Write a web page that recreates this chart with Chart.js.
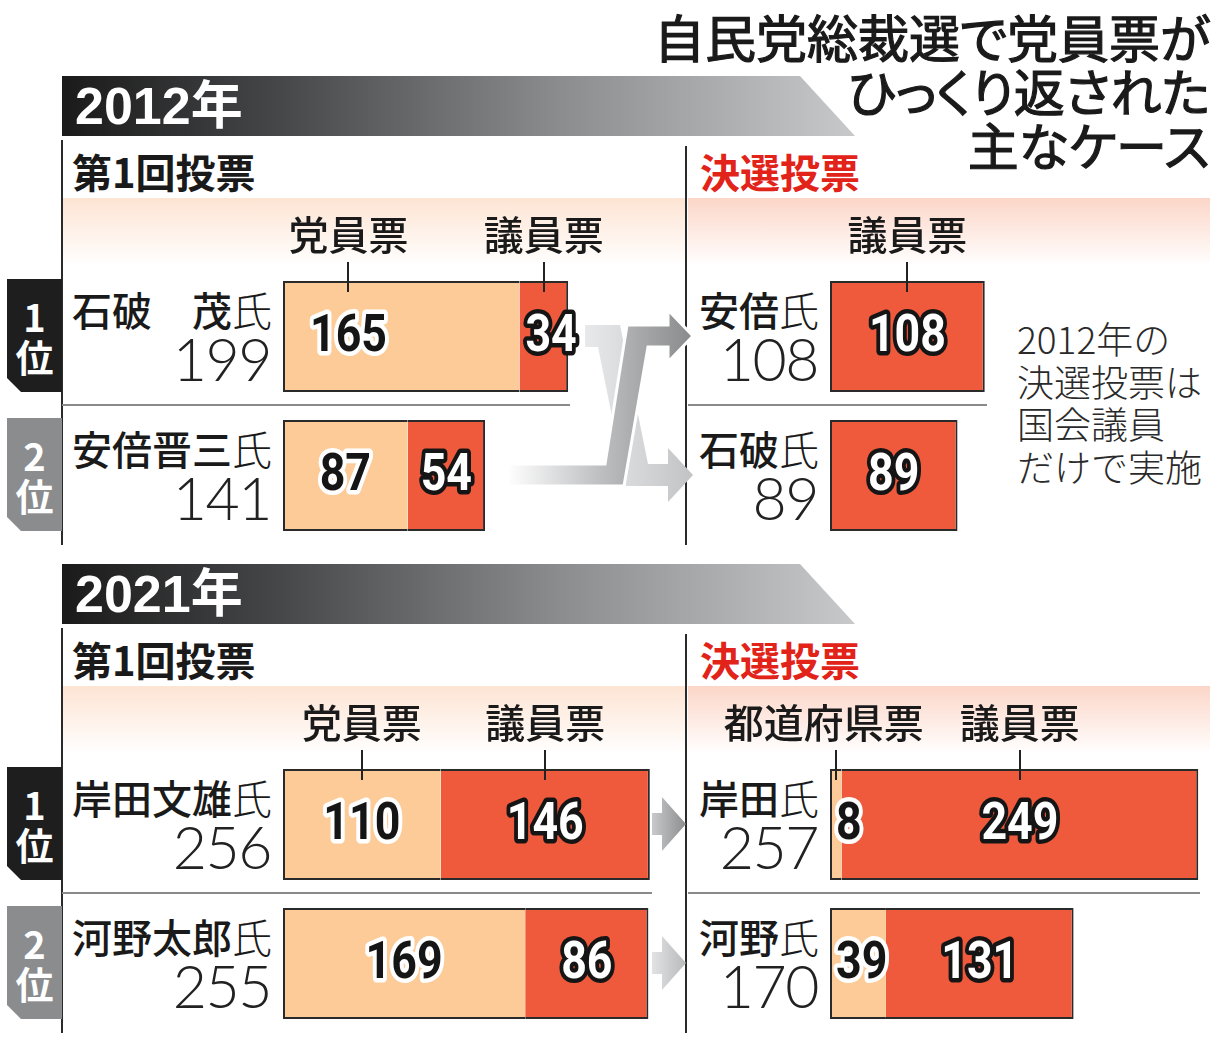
<!DOCTYPE html>
<html lang="ja">
<head>
<meta charset="utf-8">
<title>自民党総裁選で党員票がひっくり返された主なケース</title>
<script src="https://cdn.jsdelivr.net/npm/chart.js@4.4.1/dist/chart.umd.min.js"></script>
<style>
  html, body { margin: 0; padding: 0; background: #fff; }
  body { width: 1220px; height: 1040px; position: relative; overflow: hidden;
         font-family: "Noto Sans CJK JP", "Noto Sans", sans-serif; color: #1a1a1a; }
  .a { position: absolute; white-space: nowrap; }
  .title { font-size: 51px; line-height: 54px; font-weight: 400; text-align: right; z-index: 5;
           font-feature-settings: "palt"; -webkit-text-stroke: 1.2px #1a1a1a; }
  .band { left: 62px; width: 793px; height: 60px; z-index: 1;
          clip-path: polygon(0 0, 738px 0, 793px 100%, 0 100%);
          background: linear-gradient(90deg, #1a1a1a 0%, #47484a 28%, #8a8b8d 62%, #c8c9cb 100%); }
  .band span { position: absolute; left: 13px; top: 0; line-height: 60px; font-size: 52px;
               font-weight: 700; color: #fff; font-family: "Liberation Sans", "Noto Sans CJK JP", sans-serif; }
  .sub { font-size: 40px; line-height: 48px; font-weight: 700; }
  .pink { height: 68px; z-index: 0; }
  .tab { left: 7px; width: 55px; height: 113px; z-index: 1; color: #fff; font-weight: 700;
         font-size: 38px; line-height: 40px; text-align: center;
         display: flex; flex-direction: column; justify-content: center;
         clip-path: polygon(0 0, 100% 0, 100% 100%, 14px 100%, 0 calc(100% - 14px)); }
  .name { font-size: 40px; line-height: 48px; font-weight: 500; text-align: right; }
  .name i { font-style: normal; font-weight: 300; }
  .total { font-size: 59px; line-height: 64px; font-weight: 300; text-align: right; letter-spacing: -1.5px;
           font-family: Lato, Roboto, "Noto Sans CJK JP", sans-serif; color: #222; }
  .head { font-size: 40px; line-height: 48px; font-weight: 500; text-align: center; z-index: 3; }
  .tick { width: 2px; height: 30px; background: #222; z-index: 3; }
  .rule { height: 2px; background: #8a8a8a; z-index: 1; }
  .note { font-size: 37px; line-height: 42.5px; font-weight: 300; color: #2a2a2a; }
  svg { position: absolute; left: 0; top: 0; z-index: 1; }
</style>
</head>
<body>
<svg id="deco" width="1220" height="1040"></svg>
<script>
// 数値
const titleLines = ['自民党総裁選で党員票が', 'ひっくり返された', '主なケース'];
const years = ['2012年', '2021年'];
const ranks = ['1位', '2位'];
const firstNames = [['石破　茂', '安倍晋三'], ['岸田文雄', '河野太郎']];
const firstTotals = [[199, 141], [256, 255]];
const firstMember = [[165, 87], [110, 169]];   // 党員票
const firstDiet = [[34, 54], [146, 86]];       // 議員票
const runoffNames = [['安倍', '石破'], ['岸田', '河野']];
const runoffTotals = [[108, 89], [257, 170]];
const runoffPref = [null, [8, 39]];            // 都道府県票（2012年はなし）
const runoffDiet = [[108, 89], [249, 131]];    // 議員票
const firstHeads = ['党員票', '議員票'];
const runoffHeads = [['議員票'], ['都道府県票', '議員票']];
const note = ['2012年の', '決選投票は', '国会議員', 'だけで実施'];

// 見た目
const PX = 1.433;               // 1票あたりのピクセル
const SEC_TOP = [76, 564];
const FIRST_X = 283, RUN_X = 830;
const PALE = '#fccb98', RED = '#ef5a3d', EDGE = '#2a2a2a';
const LABEL_FONT = 'bold 52px Roboto, "Liberation Sans", sans-serif';
const SQUEEZE = 0.86;

function el(cls, css, html) {
  const d = document.createElement('div');
  d.className = 'a ' + cls;
  for (const k in css) d.style[k] = typeof css[k] === 'number' ? css[k] + 'px' : css[k];
  d.innerHTML = html || '';
  document.body.appendChild(d);
  return d;
}

el('title', { right: 10, top: 9 }, titleLines.join('<br>'));

function labelCenter(bar, ds, i, w) {
  const x0 = Math.min(bar.base, bar.x), x1 = Math.max(bar.base, bar.x);
  if (ds.labelAt && ds.labelAt[i] === 'start') return x0 + 27 + w / 2;
  if (w > x1 - x0 - 8) return x0 + 6 + w / 2;
  return (x0 + x1) / 2;
}

const valueLabels = {
  id: 'valueLabels',
  afterDatasetsDraw(chart) {
    const ctx = chart.ctx;
    chart.data.datasets.forEach((ds, di) => {
      chart.getDatasetMeta(di).data.forEach((bar, i) => {
        const v = ds.data[i];
        if (!v) return;
        const txt = String(v);
        ctx.save();
        ctx.font = LABEL_FONT;
        const w = ctx.measureText(txt).width * SQUEEZE;
        ctx.translate(labelCenter(bar, ds, i, w), bar.y + 1);
        ctx.scale(SQUEEZE, 1);
        ctx.textAlign = 'center';
        ctx.textBaseline = 'middle';
        ctx.lineJoin = 'round';
        ctx.lineWidth = 9;
        const onPale = ds.labelTone === 'dark';
        ctx.strokeStyle = onPale ? '#fff' : '#151515';
        ctx.fillStyle = onPale ? '#151515' : '#fff';
        ctx.strokeText(txt, 0, 0);
        ctx.fillText(txt, 0, 0);
        ctx.restore();
      });
    });
  }
};

function panel(left, T, width, lower, upper, heads, labelAt, ruleFrom) {
  const cv = document.createElement('canvas');
  cv.width = width; cv.height = 278;
  Object.assign(cv.style, { position: 'absolute', left: left + 'px', top: (T + 191) + 'px', zIndex: 2 });
  document.body.appendChild(cv);
  const datasets = [];
  if (lower) datasets.push({ data: lower, backgroundColor: PALE, borderSkipped: 'right', labelTone: 'dark', labelAt });
  datasets.push({ data: upper, backgroundColor: RED, borderSkipped: lower ? 'left' : false, labelTone: 'light' });
  const chart = new Chart(cv, {
    type: 'bar',
    data: { labels: ranks, datasets },
    options: {
      indexAxis: 'y',
      responsive: false,
      animation: false,
      devicePixelRatio: 1,
      events: [],
      elements: { bar: { borderColor: EDGE, borderWidth: 2 } },
      datasets: { bar: { categoryPercentage: 1, barPercentage: 0.8 } },
      layout: { padding: 0 },
      scales: {
        x: { stacked: true, display: false, min: 0, max: width / PX },
        y: { stacked: true, display: false }
      },
      plugins: { legend: { display: false }, tooltip: { enabled: false } }
    },
    plugins: [valueLabels]
  });
  // 見出しと目盛り線は1行目の棒に合わせる
  const ctx = cv.getContext('2d');
  ctx.font = LABEL_FONT;
  datasets.forEach((ds, di) => {
    const bar = chart.getDatasetMeta(di).data[0];
    let tx;
    if (ds.labelAt && ds.labelAt[0] === 'start') {
      tx = labelCenter(bar, ds, 0, ctx.measureText(String(ds.data[0])).width * SQUEEZE);
    } else {
      tx = (bar.x + bar.base) / 2;
    }
    tx += left;
    el('tick', { left: tx - 1, top: T + 186 });
    // 長い見出しは左に寄せて隣と重ならないようにする
    const shift = heads[di].length > 3 ? -12 : 0;
    el('head', { left: tx - 150 + shift, width: 300, top: T + 133 }, heads[di]);
  });
  const end = chart.getDatasetMeta(datasets.length - 1).data[0].x + left;
  el('rule', { left: ruleFrom, top: T + 328, width: end - ruleFrom + 2 });
  return chart;
}

const deco = [];
deco.push('<defs>' +
  '<linearGradient id="gDark" gradientUnits="userSpaceOnUse" x1="507" y1="0" x2="693" y2="0">' +
  '<stop offset="0" stop-color="#ffffff"/><stop offset="0.5" stop-color="#bebfc1"/><stop offset="1" stop-color="#898a8c"/></linearGradient>' +
  '<linearGradient id="gLight" gradientUnits="userSpaceOnUse" x1="585" y1="0" x2="693" y2="0">' +
  '<stop offset="0" stop-color="#e8e9ea"/><stop offset="1" stop-color="#c2c3c5"/></linearGradient>' +
  '<linearGradient id="gA0" gradientUnits="userSpaceOnUse" x1="648" y1="0" x2="686" y2="0">' +
  '<stop offset="0" stop-color="#cfd0d2"/><stop offset="1" stop-color="#8c8d8f"/></linearGradient>' +
  '<linearGradient id="gA1" gradientUnits="userSpaceOnUse" x1="648" y1="0" x2="686" y2="0">' +
  '<stop offset="0" stop-color="#e6e7e8"/><stop offset="1" stop-color="#b8b9bb"/></linearGradient>' +
  '</defs>');

const pts = a => a.map(p => p.join(',')).join(' ');

years.forEach((yr, s) => {
  const T = SEC_TOP[s];
  const rowY = [T + 260, T + 399];

  el('band', { top: T }, '<span>' + yr + '</span>');
  el('sub', { left: 72, top: T + 71 }, '第1回投票');
  el('sub', { left: 700, top: T + 71, color: '#e2231a' }, '決選投票');
  el('pink', { left: 63, width: 623, top: T + 122,
    background: 'linear-gradient(180deg, #fde4d3 0%, rgba(255,255,255,0) 100%)' });
  el('pink', { left: 688, width: 522, top: T + 122,
    background: 'linear-gradient(180deg, #fcd6c8 0%, rgba(255,255,255,0) 100%)' });

  deco.push('<line x1="62" y1="' + (T + 64) + '" x2="62" y2="' + (T + 469) + '" stroke="#2a2a2a" stroke-width="2"/>');
  deco.push('<line x1="686" y1="' + (T + 70) + '" x2="686" y2="' + (T + 469) + '" stroke="#2a2a2a" stroke-width="2"/>');

  ranks.forEach((r, i) => {
    el('tab', { top: rowY[i] - 57, background: i === 0 ? '#1e1e1e' : '#8b8c8e' },
       r.split('').map(c => '<div>' + c + '</div>').join(''));
    el('name', { right: 1220 - 272, top: rowY[i] - 51 }, firstNames[s][i] + '<i>氏</i>');
    el('total', { right: 1220 - 271, top: rowY[i] - 9 }, firstTotals[s][i]);
    el('name', { right: 1220 - 819, top: rowY[i] - 51 }, runoffNames[s][i] + '<i>氏</i>');
    el('total', { right: 1220 - 818, top: rowY[i] - 9 }, runoffTotals[s][i]);
  });

  panel(FIRST_X, T, 400, firstMember[s], firstDiet[s], firstHeads,
        s === 0 ? ['start', 'center'] : null, 62);
  panel(RUN_X, T, 380, runoffPref[s], runoffDiet[s], runoffHeads[s], null, 688);

  const [r0, r1] = rowY;
  const crossed = !firstNames[s][0].startsWith(runoffNames[s][0]);
  if (crossed) {
    deco.push('<polygon fill="url(#gLight)" points="' + pts([[585, r0 - 11], [620, r0 - 11], [648, r1 - 11], [668, r1 - 11],
      [668, r1 - 27], [693, r1], [668, r1 + 27], [668, r1 + 11], [626, r1 + 11], [598, r0 + 11], [585, r0 + 11]]) + '"/>');
    deco.push('<polygon fill="url(#gDark)" stroke="#fff" stroke-width="3" stroke-linejoin="miter" points="' + pts([[507, r1 - 11], [605, r1 - 11],
      [627, r0 - 11], [668, r0 - 11], [668, r0 - 26], [693, r0], [668, r0 + 26], [668, r0 + 11], [648, r0 + 11],
      [624, r1 + 11], [507, r1 + 11]]) + '"/>');
  } else {
    rowY.forEach((r, i) => {
      deco.push('<polygon fill="url(#gA' + i + ')" points="' + pts([[652, r - 11], [662, r - 11], [662, r - 27], [686, r],
        [662, r + 27], [662, r + 11], [652, r + 11]]) + '"/>');
    });
  }
});

el('note', { left: 1017, top: 317 }, note.join('<br>'));

document.getElementById('deco').innerHTML = deco.join('');
</script>
</body>
</html>
